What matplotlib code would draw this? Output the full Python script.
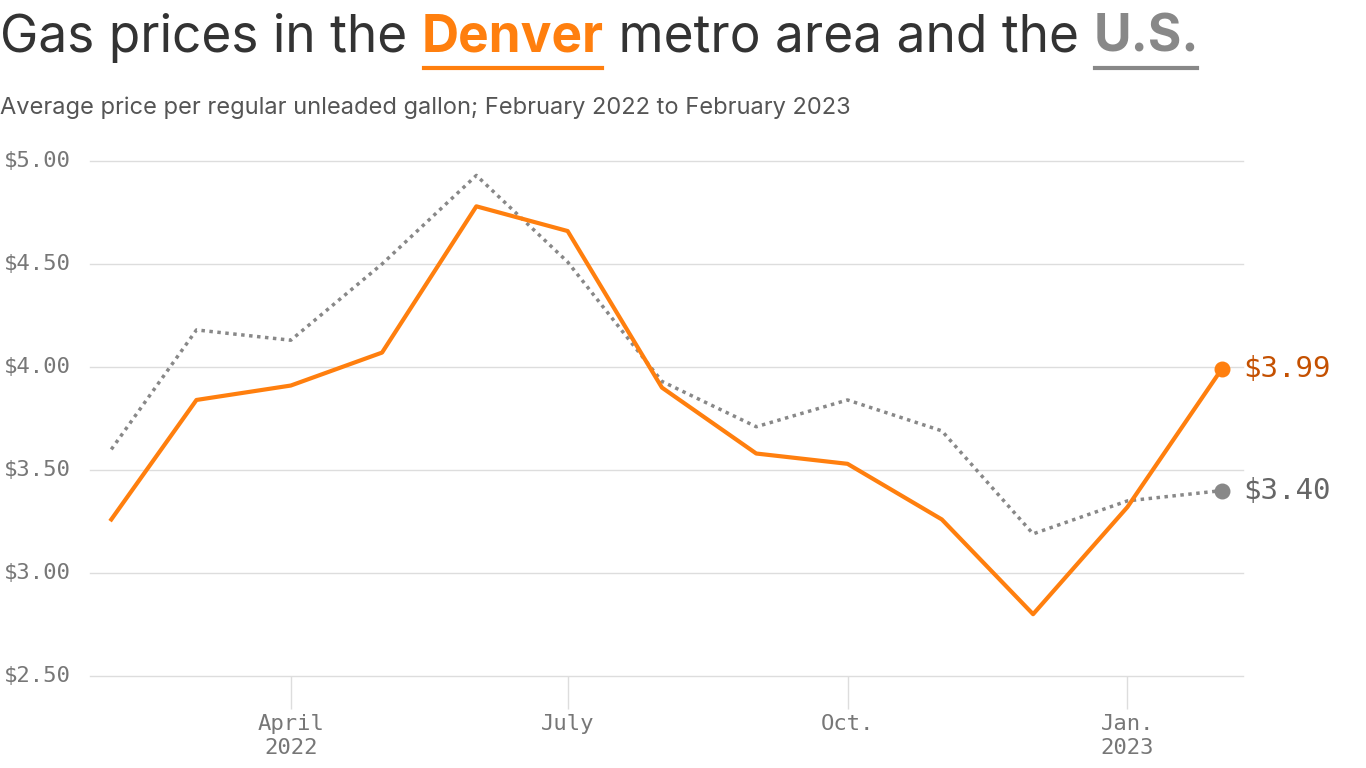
import matplotlib
matplotlib.use("Agg")
import matplotlib.pyplot as plt
import matplotlib.dates as mdates
import numpy as np
import datetime as dt

months = [dt.date(2022, m, 1) for m in range(2, 13)] + [dt.date(2023, 1, 1), dt.date(2023, 2, 1)]
denver = [3.26, 3.84, 3.91, 4.07, 4.78, 4.66, 3.90, 3.58, 3.53, 3.26, 2.80, 3.32, 3.99]
us = [3.60, 4.18, 4.13, 4.50, 4.93, 4.51, 3.93, 3.71, 3.84, 3.69, 3.19, 3.35, 3.40]
yticks = [2.5, 3.0, 3.5, 4.0, 4.5, 5.0]
xticks = [dt.date(2022, 4, 1), dt.date(2022, 7, 1), dt.date(2022, 10, 1), dt.date(2023, 1, 1)]
xticklabels = ["April\n2022", "July", "Oct.", "Jan.\n2023"]

ORANGE = "#ff7f0e"
ORANGE_DARK = "#c45000"
GRAY = "#888888"
W, H = 1366, 768
fig = plt.figure(figsize=(W/100, H/100), dpi=100)
ax = fig.add_axes([90/W, 1-676/H, (1243-90)/W, (676-161)/H])
ax.set_ylim(2.5, 5.0)
ax.set_xlim(mdates.date2num(dt.date(2022, 1, 25)), mdates.date2num(dt.date(2023, 2, 8)))
for s in ax.spines.values():
    s.set_visible(False)
for y in yticks:
    ax.axhline(y, color="#dddddd", lw=1, zorder=0, clip_on=False)
ax.set_yticks([])
ax.set_xticks([mdates.date2num(d) for d in xticks])
ax.set_xticklabels(xticklabels, family="DejaVu Sans Mono", fontsize=16, color="#777777", linespacing=1.25)
ax.tick_params(axis="x", length=24, color="#dddddd", width=1, pad=3)
for y in yticks:
    fig.text(4/W, ax.transData.transform((0, y))[1]/H, f"${y:.2f}", family="DejaVu Sans Mono",
             fontsize=16, color="#777777", va="center", ha="left")

xn = mdates.date2num(months)
ax.plot(xn, us, color=GRAY, lw=2.5, ls=(0, (1, 1.3)), zorder=2)
ax.plot(xn, denver, color=ORANGE, lw=3, zorder=3)
ax.scatter([xn[-1]], [us[-1]], s=110, color=GRAY, zorder=4, clip_on=False)
ax.scatter([xn[-1]], [denver[-1]], s=110, color=ORANGE, zorder=4, clip_on=False)
ax.text(xn[-1] + 7, denver[-1], f"${denver[-1]:.2f}", family="DejaVu Sans Mono", fontsize=21,
        color=ORANGE_DARK, va="center")
ax.text(xn[-1] + 7, us[-1], f"${us[-1]:.2f}", family="DejaVu Sans Mono", fontsize=21,
        color="#666666", va="center")

fig.canvas.draw()
r = fig.canvas.get_renderer()
x = 0
ty = 1 - 38/H
parts = [("Gas prices in the ", "#333333", "normal", None), ("Denver", ORANGE, "bold", ORANGE),
         (" metro area and the ", "#333333", "normal", None), ("U.S.", GRAY, "bold", GRAY)]
for txt, col, wt, ul in parts:
    t = fig.text(x, ty, txt, fontsize=37, color=col, weight=wt, family="Inter", va="center")
    bb = t.get_window_extent(r)
    if ul:
        fig.add_artist(plt.Line2D([x + 2/W, x + bb.width/W - 2/W], [1-68/H, 1-68/H], color=ul, lw=3,
                                  transform=fig.transFigure))
    x += bb.width / W
fig.text(0, 1-108/H, "Average price per regular unleaded gallon; February 2022 to February 2023",
         fontsize=17, color="#555555", family="Inter", va="center")
fig.savefig("out.png", dpi=100, facecolor="white")
